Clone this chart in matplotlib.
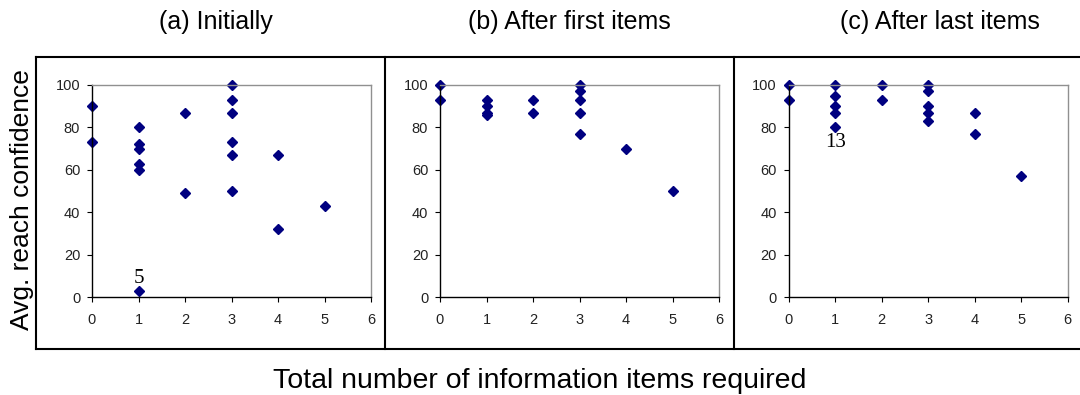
import numpy as np
import matplotlib
matplotlib.use("Agg")
import matplotlib.pyplot as plt
from matplotlib.lines import Line2D

plt.rcParams["font.family"] = ["Liberation Sans", "DejaVu Sans"]

# data
titles = ["(a) Initially", "(b) After first items", "(c) After last items"]

x_a = [0, 0, 1, 1, 1, 1, 1, 1, 2, 2, 3, 3, 3, 3, 3, 3, 4, 4, 5]
y_a = [90, 73, 80, 72, 70, 63, 60, 3, 87, 49, 100, 93, 87, 73, 67, 50, 67, 32, 43]

x_b = [0, 0, 1, 1, 1, 1, 2, 2, 3, 3, 3, 3, 3, 4, 5]
y_b = [100, 93, 93, 90, 87, 86, 93, 87, 100, 97, 93, 87, 77, 70, 50]

x_c = [0, 0, 1, 1, 1, 1, 1, 2, 2, 3, 3, 3, 3, 3, 4, 4, 5]
y_c = [100, 93, 100, 95, 90, 87, 80, 100, 93, 100, 97, 90, 87, 83, 87, 77, 57]

notes = [("5", 1, 9), None, ("13", 1, 73)]

xs = [x_a, x_b, x_c]
ys = [y_a, y_b, y_c]

W, H = 1080, 395
fig = plt.figure(figsize=(W / 100, H / 100), dpi=100)

lefts = [92, 440, 788.7]
ax_w = 279
ax_top, ax_bot = 85, 297.3
title_x = [216, 569, 940]

for i in range(3):
    ax = fig.add_axes([lefts[i] / W, 1 - ax_bot / H, ax_w / W, (ax_bot - ax_top) / H])
    ax.plot(xs[i], ys[i], "D", color="#000080", markersize=5.2, linestyle="none",
            clip_on=False)
    ax.set_xlim(0, 6)
    ax.set_ylim(0, 100)
    ax.set_xticks(range(7))
    ax.set_yticks(range(0, 101, 20))
    ax.tick_params(labelsize=10.5, length=3.5, width=0.8, color="black",
                   labelcolor="#222222")
    ax.tick_params(axis="x", pad=8)
    ax.tick_params(axis="y", pad=5)
    for s in ["top", "right"]:
        ax.spines[s].set_color("#909090")
        ax.spines[s].set_linewidth(1.0)
    for s in ["left", "bottom"]:
        ax.spines[s].set_color("black")
        ax.spines[s].set_linewidth(1.0)
    if notes[i] is not None:
        t, nx, ny = notes[i]
        ax.text(nx, ny, t, family="Liberation Serif", fontsize=15,
                ha="center", va="center")
    fig.text(title_x[i] / W, 1 - 22.5 / H, titles[i], fontsize=18,
             ha="center", va="center")

# outer panel frames
frame_kw = dict(color="black", linewidth=1.5, transform=fig.transFigure)
fig.add_artist(Line2D([36 / W, 1], [1 - 57 / H] * 2, **frame_kw))
fig.add_artist(Line2D([36 / W, 1], [1 - 349 / H] * 2, **frame_kw))
for vx in [36, 385, 734]:
    fig.add_artist(Line2D([vx / W] * 2, [1 - 57 / H, 1 - 349 / H], **frame_kw))

fig.text(22 / W, 1 - 200 / H, "Avg. reach confidence", fontsize=19,
         rotation=90, ha="center", va="center")
fig.text(540 / W, 1 - 381 / H, "Total number of information items required",
         fontsize=20.5, ha="center", va="center")

fig.savefig("out.png", dpi=100)
